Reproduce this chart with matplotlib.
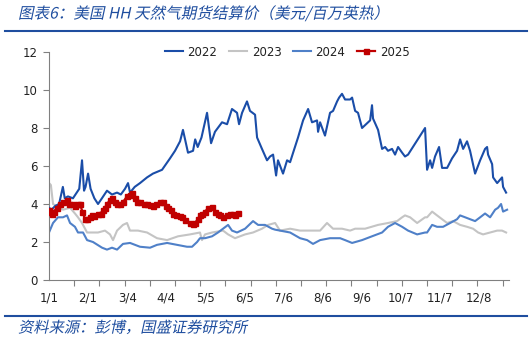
import matplotlib
matplotlib.use("Agg")
import matplotlib.pyplot as plt
from matplotlib.patheffects import AbstractPathEffect
from matplotlib.transforms import Affine2D
from matplotlib.lines import Line2D

# ---------------- data (day of year, value in USD/MMBtu) ----------------
d2022 = [0, 2, 5, 8, 11, 12.5, 15, 19, 22, 24, 26.2, 27.8, 29, 31, 33, 36, 38.9, 42, 46, 50,
         54, 57, 60.3, 62.7, 64.3, 68, 72.2, 77.8, 82.5, 89.7, 96, 100, 104, 106.3, 110.3,
         114.3, 116, 118, 121, 125.4, 128.6, 131.7, 137.3, 141.3, 145.2, 149.2, 150.8, 153.2,
         157.1, 159.5, 163.5, 165.1, 169, 173, 175.4, 177.8, 180.2, 181.7, 185.7, 188.9, 191.3,
         193.7, 197.6, 201.6, 205.6, 208.7, 212.7, 213.5, 215.1, 219, 223, 225.4, 228.6, 230.2,
         232.5, 234.9, 238.9, 240.5, 242.9, 245.2, 248.4, 253.2, 254.8, 256.3, 257.1, 261.1,
         264.3, 266.7, 269, 272.2, 274.6, 277, 280.2, 282.5, 284.9, 298.4, 300, 302.4, 304,
         306.3, 309.5, 311.9, 315.9, 319.8, 323.8, 326.2, 328.6, 331.7, 334.1, 338.1, 342.1,
         346, 347.6, 348.4, 351.6, 352.4, 355.6, 359.5, 360.3, 362.7]
v2022 = [3.8, 3.7, 3.9, 4.0, 4.9, 4.3, 4.4, 4.3, 4.6, 4.8, 6.3, 4.7, 4.9, 5.6, 4.8, 4.3, 4.0, 4.3, 4.7, 4.5,
         4.6, 4.5, 4.8, 5.1, 4.6, 4.9, 5.1, 5.4, 5.6, 5.8, 6.4, 6.8, 7.3, 7.9, 6.7,
         6.8, 7.4, 7.0, 7.5, 8.8, 7.2, 7.8, 8.3, 8.2, 9.0, 8.8, 8.2, 8.8,
         9.4, 8.9, 8.7, 7.5, 6.9, 6.3, 6.5, 6.6, 5.5, 6.3, 5.6, 6.3, 6.2,
         6.7, 7.5, 8.4, 9.0, 8.3, 8.4, 7.8, 8.3, 7.6, 8.8, 8.9, 9.4, 9.6,
         9.8, 9.5, 9.5, 9.6, 8.9, 8.8, 8.0, 8.3, 8.4, 9.2, 8.5, 7.9,
         6.9, 7.0, 6.8, 6.9, 6.6, 7.0, 6.7, 6.5, 6.6, 8.0, 5.8, 6.3, 5.9,
         6.5, 7.0, 5.9, 5.9, 6.4, 6.8, 7.4, 6.9, 7.3, 6.8, 5.6, 6.3,
         6.9, 7.0, 6.6, 6.1, 5.4, 5.1, 5.4, 4.9, 4.6]

d2023 = [0, 1.5, 3.2, 11.1, 16.7, 20.6, 23, 26.2, 30.2, 34.1, 38.9, 44.4, 48.4, 50.8, 54, 58.7,
         61.9, 64.3, 70.6, 77.8, 85.7, 93.7, 102.4, 111.9, 119.8, 121.4, 123.8, 129.4, 138.1,
         142.1, 147.6, 155.6, 161.9, 169, 173.8, 179.4, 183.3, 191.3, 199.2, 207.1, 215.1,
         220.6, 225.4, 232.5, 238.9, 242.9, 250.8, 261.1, 269, 276.2, 280.2, 282.5, 286.5,
         292.1, 298.4, 300, 304, 307.9, 311.9, 315.9, 320.6, 326.2, 331.7, 336.5, 340.5,
         344.4, 350, 355.6, 359.5, 362.7]
v2023 = [5.1, 5.0, 4.0, 3.7, 3.8, 3.5, 3.3, 3.0, 2.5, 2.5, 2.5, 2.6, 2.4, 2.1, 2.6, 2.9,
         3.0, 2.6, 2.6, 2.5, 2.2, 2.1, 2.3, 2.4, 2.5, 2.1, 2.4, 2.5, 2.6,
         2.4, 2.2, 2.4, 2.5, 2.7, 2.9, 3.0, 2.6, 2.7, 2.6, 2.6, 2.6,
         3.0, 2.7, 2.7, 2.6, 2.7, 2.7, 2.9, 3.0, 3.1, 3.3, 3.4, 3.3,
         3.0, 3.3, 3.3, 3.6, 3.4, 3.2, 3.0, 3.1, 2.9, 2.8, 2.7, 2.5,
         2.4, 2.5, 2.6, 2.6, 2.5]

d2024 = [0, 3.2, 7.1, 11.1, 14.3, 16.7, 20.6, 23, 27, 30.2, 34.9, 42.1, 46, 50, 54, 58.7, 64.3,
         72.2, 80.2, 85.7, 93.7, 101.6, 109.5, 113.5, 117.5, 119.8, 123.8, 129.4, 134.1, 138.1,
         142.1, 145.2, 149.2, 155.6, 161.9, 165.9, 171.4, 177, 179.4, 183.3, 191.3, 199.2,
         204.8, 209.5, 215.1, 223, 231, 234.9, 240.5, 248.4, 256.3, 264.3, 269, 274.6, 280.2,
         284.9, 292.1, 298.4, 300, 304, 307.9, 312.7, 318.3, 323.8, 326.2, 330.2, 334.1,
         338.1, 342.1, 346, 350, 354, 356.3, 358.7, 360.3, 363.5]
v2024 = [2.5, 3.0, 3.3, 3.3, 3.4, 3.0, 2.8, 2.5, 2.5, 2.1, 2.0, 1.7, 1.6, 1.7, 1.6, 1.9, 1.95,
         1.75, 1.7, 1.85, 1.95, 1.85, 1.75, 1.75, 2.0, 2.2, 2.2, 2.3, 2.5, 2.7,
         2.9, 2.6, 2.5, 2.7, 3.1, 2.9, 2.9, 2.7, 2.65, 2.6, 2.5, 2.2,
         2.1, 1.9, 2.1, 2.2, 2.2, 2.1, 1.95, 2.1, 2.3, 2.5, 2.8, 3.0, 2.8,
         2.6, 2.4, 2.5, 2.5, 2.9, 2.8, 2.8, 3.0, 3.2, 3.4, 3.3, 3.2,
         3.1, 3.3, 3.5, 3.3, 3.7, 3.8, 4.0, 3.6, 3.7]

d2025 = [0, 1.5, 2.4, 4, 6, 8.7, 11.1, 14.3, 16, 19, 21, 23, 24.6, 26.5, 28.6, 30.2, 32.5, 34.1,
         36, 38.9, 41, 42.9, 44.4, 46, 48.4, 50, 52, 54, 56.3, 58.7, 61.9, 64, 65.9, 68, 69.8,
         72, 75, 77.8, 80.2, 82.5, 85, 88.1, 90.5, 93, 94.4, 96.5, 98.4, 101, 104, 105.6, 108,
         111.9, 114, 115.9, 118, 119.8, 121.4, 124, 126.2, 129.4, 131.7, 134, 135.7, 138.1,
         141.3, 143.7, 146, 147.6, 150]
v2025 = [3.7, 3.6, 3.45, 3.6, 3.8, 4.0, 4.1, 4.2, 4.0, 4.0, 3.9, 4.0, 4.0, 3.6, 3.2, 3.2, 3.3, 3.4,
         3.35, 3.5, 3.5, 3.7, 3.8, 4.0, 4.2, 4.3, 4.1, 4.0, 4.0, 4.1, 4.4, 4.5, 4.6, 4.3, 4.1,
         4.1, 4.0, 4.0, 3.95, 3.9, 4.0, 4.1, 4.1, 3.9, 3.8, 3.7, 3.5, 3.4, 3.35, 3.3, 3.15,
         3.0, 2.95, 3.0, 3.2, 3.4, 3.5, 3.6, 3.8, 3.85, 3.6, 3.5, 3.4, 3.3,
         3.4, 3.5, 3.45, 3.4, 3.55]

tick_days = [0, 31, 62, 93, 124, 155, 186, 217, 248, 279, 310, 341]
tick_labels = ["1/1", "2/1", "3/4", "4/4", "5/5", "6/5", "7/6", "8/6", "9/6", "10/7", "11/7", "12/8"]

title = "图表6：美国 HH 天然气期货结算价（美元/百万英热）"
source = "资料来源：彭博，国盛证券研究所"

# ---------------- styling ----------------
C22, C23, C24, C25 = "#1A4DA8", "#C4C4C4", "#4F80C8", "#C00000"
HEAD = "#1F4E9F"


class Skew(AbstractPathEffect):
    def __init__(self, deg=12):
        super().__init__()
        self.deg = deg

    def draw_path(self, renderer, gc, tpath, affine, rgbFace=None):
        renderer.draw_path(gc, tpath, Affine2D().skew_deg(self.deg, 0) + affine, rgbFace)


fig = plt.figure(figsize=(5.32, 3.42), dpi=100)
ax = fig.add_axes([49 / 532, 1 - 280 / 342, 460 / 532, 228 / 342])

ax.plot(d2022, v2022, color=C22, lw=1.5, label="2022", zorder=3)
ax.plot(d2023, v2023, color=C23, lw=1.5, label="2023", zorder=2)
ax.plot(d2024, v2024, color=C24, lw=1.5, label="2024", zorder=2)
ax.plot(d2025, v2025, color=C25, lw=1.6, marker="s", markersize=3.6, label="2025", zorder=4)

ax.set_xlim(0, 365)
ax.set_ylim(0, 12)
ax.set_yticks(range(0, 13, 2))
ax.set_xticks(tick_days)
ax.set_xticklabels(tick_labels)
ax.set_xticks(list(range(0, 361, 20)), minor=True)
ax.tick_params(axis="x", which="major", length=0, pad=8, labelsize=8.5, colors="#222222")
ax.tick_params(axis="x", which="minor", length=4, width=0.8, color="#808080", direction="out")
ax.tick_params(axis="y", length=4, width=0.8, color="#808080", labelsize=8.5,
               labelcolor="#222222", pad=4)
for s in ("top", "right"):
    ax.spines[s].set_visible(False)
for s in ("left", "bottom"):
    ax.spines[s].set_color("#808080")
    ax.spines[s].set_linewidth(0.8)

leg = ax.legend(loc="center", bbox_to_anchor=(0.518, 1.0), ncol=4, frameon=False,
                fontsize=8.5, handlelength=1.5, columnspacing=1.0, handletextpad=0.4)
for t in leg.get_texts():
    t.set_color("#222222")

fig.text(18 / 532, 1 - 14 / 342, title, fontsize=11.2, color=HEAD, va="center", ha="left",
         family=["Noto Sans CJK SC", "DejaVu Sans"], path_effects=[Skew(12)])
fig.text(18 / 532, 1 - 328 / 342, source, fontsize=11, color=HEAD, va="center", ha="left",
         family=["Noto Sans CJK SC", "DejaVu Sans"], path_effects=[Skew(12)])

fig.add_artist(Line2D([5 / 532, 527 / 532], [1 - 31 / 342, 1 - 31 / 342], color=HEAD, lw=1.5,
                      transform=fig.transFigure))
fig.add_artist(Line2D([5 / 532, 527 / 532], [1 - 316 / 342, 1 - 316 / 342], color=HEAD, lw=1.5,
                      transform=fig.transFigure))

fig.savefig("out.png", dpi=100)
